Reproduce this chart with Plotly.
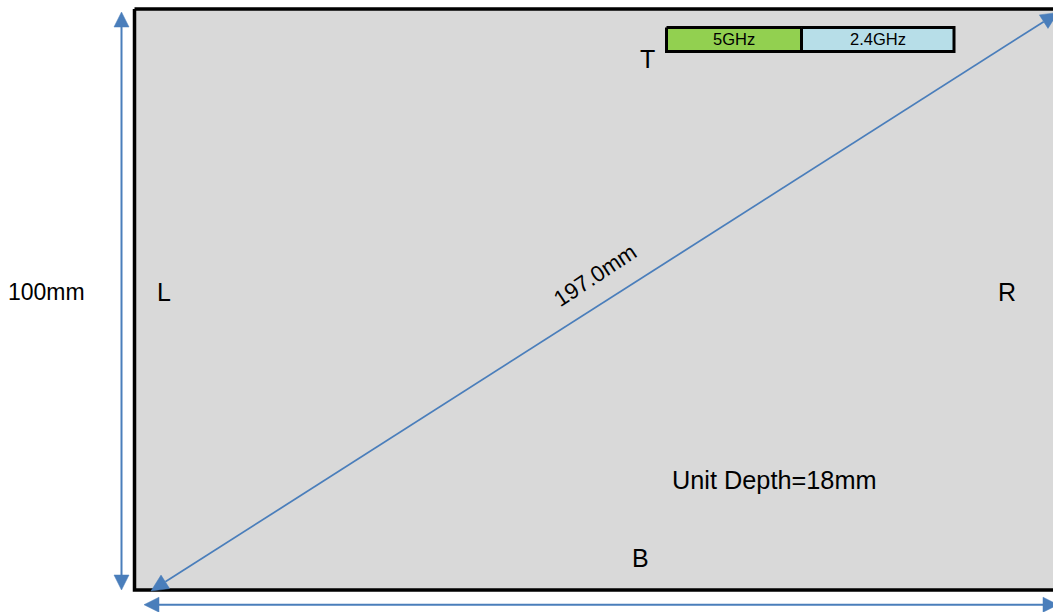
import math
import plotly.graph_objects as go

# Diagram geometry (the axes are the 1053x612 page, y pointing down)
panel_x = [134.5, 1075]
panel_y = [9, 590]
band_x = [666.5, 801.5, 954]
band_y = [27.5, 51.5]
band_labels = ["5GHz", "2.4GHz"]
band_colors = ["#92D050", "#B7DEE8"]
arrow_names = ["height", "width", "diagonal"]
arrow_start = [(121.5, 12), (144, 604.7), (151, 591)]
arrow_end = [(121.5, 590), (1058, 604.7), (1058, 12.5)]
arrow_widths = [2, 2, 1.75]
arrow_head = [(15, 15), (15, 15), (17, 16)]
labels = ["100mm", "L", "R", "T", "B", "Unit Depth=18mm", "197.0mm"]
label_x = [46, 164, 1007, 647, 640, 774, 595]
label_y = [292, 292, 292, 59, 558, 480, 275]
label_size = [23, 25, 25, 25, 25, 25.3, 22.5]
label_angle = [0, 0, 0, 0, 0, 0, -33.5]
BLUE = "#4A7EBB"

fig = go.Figure()

# Grey panel
fig.add_trace(go.Scatter(
    x=[panel_x[0], panel_x[1], panel_x[1], panel_x[0], panel_x[0]],
    y=[panel_y[0], panel_y[0], panel_y[1], panel_y[1], panel_y[0]],
    mode="lines", fill="toself", fillcolor="#D9D9D9",
    line=dict(color="#000000", width=3.5), hoverinfo="skip", name="panel"))

# Frequency bands
for i, name in enumerate(band_labels):
    x0, x1 = band_x[i], band_x[i + 1]
    fig.add_trace(go.Scatter(
        x=[x0, x1, x1, x0, x0],
        y=[band_y[0], band_y[0], band_y[1], band_y[1], band_y[0]],
        mode="lines", fill="toself", fillcolor=band_colors[i],
        line=dict(color="#000000", width=3), hoverinfo="skip", name=name))
    fig.add_annotation(x=(x0 + x1) / 2, y=sum(band_y) / 2 - 1, text=name, showarrow=False,
                       font=dict(family="Liberation Sans", size=16.5, color="#000000"))


def head(tip, base_from, length, width):
    dx, dy = base_from[0] - tip[0], base_from[1] - tip[1]
    n = math.hypot(dx, dy)
    ux, uy = dx / n, dy / n
    bx, by = tip[0] + ux * length, tip[1] + uy * length
    px, py = -uy * width / 2, ux * width / 2
    return [tip[0], bx + px, bx - px, tip[0]], [tip[1], by + py, by - py, tip[1]], (bx, by)


# Double-headed dimension arrows
for name, a, b, w, (hl, hw) in zip(arrow_names, arrow_start, arrow_end, arrow_widths, arrow_head):
    xa, ya, ba = head(a, b, hl, hw)
    xb, yb, bb = head(b, a, hl, hw)
    fig.add_trace(go.Scatter(x=[ba[0], bb[0]], y=[ba[1], bb[1]], mode="lines",
                             line=dict(color=BLUE, width=w), hoverinfo="skip", name=name))
    for xs, ys in ((xa, ya), (xb, yb)):
        fig.add_trace(go.Scatter(x=xs, y=ys, mode="lines", fill="toself", fillcolor=BLUE,
                                 line=dict(color=BLUE, width=0.5), hoverinfo="skip", name=name))

# Text labels
for t, x, y, s, ang in zip(labels, label_x, label_y, label_size, label_angle):
    fig.add_annotation(x=x, y=y, text=t, showarrow=False, textangle=ang,
                       font=dict(family="Liberation Sans", size=s, color="#000000"))

fig.update_layout(
    width=1053, height=612, autosize=False, showlegend=False,
    margin=dict(l=0, r=0, t=0, b=0),
    paper_bgcolor="#FFFFFF", plot_bgcolor="#FFFFFF",
    xaxis=dict(range=[0, 1053], visible=False, fixedrange=True),
    yaxis=dict(range=[612, 0], visible=False, fixedrange=True),
)
fig.write_html("out.html", config=dict(displayModeBar=False),
               post_script="document.body.style.margin='0';document.body.style.overflow='hidden';")
